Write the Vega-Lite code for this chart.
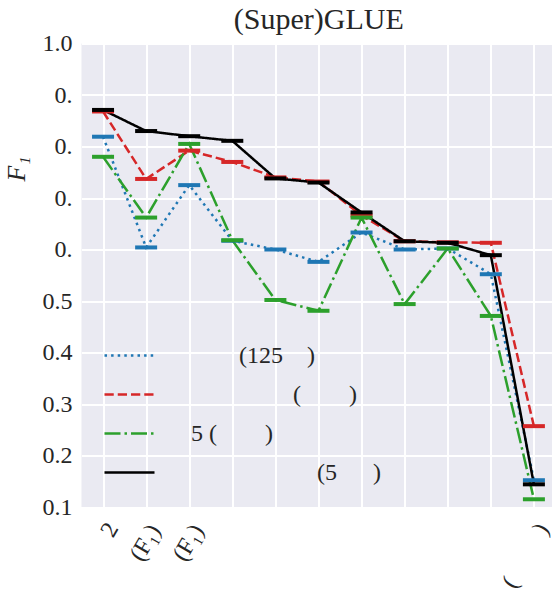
{
  "$schema": "https://vega.github.io/schema/vega-lite/v6.json",
  "width": 470.5,
  "height": 463.5,
  "autosize": {"type": "none"},
  "padding": {"left": 81.5, "top": 43.5, "right": 0, "bottom": 85},
  "background": "white",
  "title": {"text": "(Super)GLUE", "font": "Liberation Serif", "fontSize": 30, "fontWeight": "normal", "color": "#262626", "anchor": "middle", "offset": -3, "dx": 2},
  "config": {
    "view": {"fill": "#EAEAF2", "stroke": null},
    "axis": {"grid": true, "gridColor": "#ffffff", "gridWidth": 2, "gridOpacity": 1, "domain": false, "ticks": false, "labelFont": "Liberation Serif", "labelFontSize": 24, "labelColor": "#262626", "labelFlush": false, "labelOverlap": false, "titleFont": "Liberation Serif", "titleColor": "#262626"}
  },
  "data": {"values": [
    {"s": "s1", "x": 0, "y": 0.819}, {"s": "s1", "x": 1, "y": 0.604}, {"s": "s1", "x": 2, "y": 0.725}, {"s": "s1", "x": 3, "y": 0.617}, {"s": "s1", "x": 4, "y": 0.600}, {"s": "s1", "x": 5, "y": 0.576}, {"s": "s1", "x": 6, "y": 0.633}, {"s": "s1", "x": 7, "y": 0.600}, {"s": "s1", "x": 8, "y": 0.602}, {"s": "s1", "x": 9, "y": 0.552}, {"s": "s1", "x": 10, "y": 0.152},
    {"s": "s2", "x": 0, "y": 0.868}, {"s": "s2", "x": 1, "y": 0.737}, {"s": "s2", "x": 2, "y": 0.792}, {"s": "s2", "x": 3, "y": 0.770}, {"s": "s2", "x": 4, "y": 0.740}, {"s": "s2", "x": 5, "y": 0.732}, {"s": "s2", "x": 6, "y": 0.666}, {"s": "s2", "x": 7, "y": 0.616}, {"s": "s2", "x": 8, "y": 0.614}, {"s": "s2", "x": 9, "y": 0.613}, {"s": "s2", "x": 10, "y": 0.257},
    {"s": "s3", "x": 0, "y": 0.780}, {"s": "s3", "x": 1, "y": 0.662}, {"s": "s3", "x": 2, "y": 0.805}, {"s": "s3", "x": 3, "y": 0.618}, {"s": "s3", "x": 4, "y": 0.502}, {"s": "s3", "x": 5, "y": 0.481}, {"s": "s3", "x": 6, "y": 0.662}, {"s": "s3", "x": 7, "y": 0.494}, {"s": "s3", "x": 8, "y": 0.602}, {"s": "s3", "x": 9, "y": 0.471}, {"s": "s3", "x": 10, "y": 0.115},
    {"s": "s4", "x": 0, "y": 0.871}, {"s": "s4", "x": 1, "y": 0.830}, {"s": "s4", "x": 2, "y": 0.820}, {"s": "s4", "x": 3, "y": 0.811}, {"s": "s4", "x": 4, "y": 0.738}, {"s": "s4", "x": 5, "y": 0.730}, {"s": "s4", "x": 6, "y": 0.672}, {"s": "s4", "x": 7, "y": 0.616}, {"s": "s4", "x": 8, "y": 0.613}, {"s": "s4", "x": 9, "y": 0.589}, {"s": "s4", "x": 10, "y": 0.144}
  ]},
  "encoding": {
    "x": {"field": "x", "type": "quantitative", "scale": {"domain": [-0.5, 10.42], "nice": false, "zero": false},
      "axis": {"values": [0, 1, 2, 3, 4, 5, 6, 7, 8, 9, 10], "title": null, "labelAngle": -60, "labelAlign": "center", "labelBaseline": "middle", "labelPadding": 35.5, "labelOffset": -1,
        "labelExpr": "datum.value == 0 ? '\u2060\u2003\u20052' : (datum.value == 1 || datum.value == 2) ? '(F\u2081)' : datum.value == 10 ? '(\u2003\u2003\u2005)\u2003\u2005\u2060' : ''"}},
    "y": {"field": "y", "type": "quantitative", "scale": {"domain": [0.1, 1.0], "nice": false, "zero": false},
      "axis": {"values": [0.1, 0.2, 0.3, 0.4, 0.5, 0.6, 0.7, 0.8, 0.9, 1.0], "format": ".1f", "labelPadding": 9.5,
        "labelExpr": "(datum.value > 0.55 && datum.value < 0.95) ? '0.' : datum.label",
        "title": "F\u2081", "titleFontStyle": "italic", "titleFontWeight": "normal", "titleFontSize": 26, "titleAngle": 270, "titleX": -65, "titleY": 125, "titleAlign": "center", "titleBaseline": "middle"}}
  },
  "layer": [
    {"mark": {"type": "line", "strokeWidth": 2.5},
     "encoding": {
       "color": {"field": "s", "type": "nominal", "scale": {"domain": ["s1", "s2", "s3", "s4"], "range": ["#1f77b4", "#d62728", "#2ca02c", "#000000"]},
         "legend": {"title": null, "orient": "none", "legendX": 21.5, "legendY": 285.5, "padding": 0, "symbolType": "stroke", "symbolSize": 2500, "symbolStrokeWidth": 2.5, "labelFont": "Liberation Serif", "labelFontSize": 24, "labelColor": "#262626", "labelOffset": 11, "rowPadding": -12.3, "labelLimit": 400,
           "labelExpr": "datum.label == 's1' ? '\u2060\u2003\u2003\u2003(125\u2003)' : datum.label == 's2' ? '\u2060\u2003\u2003\u2003\u2003\u2003\u2005(\u2003\u2003)' : datum.label == 's3' ? '\u2060\u20035 (\u2003\u2003)' : '\u2060\u2003\u2003\u2003\u2003\u2003\u2003\u2005(5\u2003\u2002)'"}},
       "strokeDash": {"field": "s", "type": "nominal", "scale": {"domain": ["s1", "s2", "s3", "s4"], "range": [[2.5, 4.1], [9.25, 4], [16, 4, 2.5, 4], [1, 0]]},
         "legend": {"title": null, "orient": "none", "legendX": 21.5, "legendY": 285.5, "padding": 0, "symbolType": "stroke", "symbolSize": 2500, "symbolStrokeWidth": 2.5, "labelFont": "Liberation Serif", "labelFontSize": 24, "labelColor": "#262626", "labelOffset": 11, "rowPadding": -12.3, "labelLimit": 400,
           "labelExpr": "datum.label == 's1' ? '\u2060\u2003\u2003\u2003(125\u2003)' : datum.label == 's2' ? '\u2060\u2003\u2003\u2003\u2003\u2003\u2005(\u2003\u2003)' : datum.label == 's3' ? '\u2060\u20035 (\u2003\u2003)' : '\u2060\u2003\u2003\u2003\u2003\u2003\u2003\u2005(5\u2003\u2002)'"}}
     }},
    {"mark": {"type": "point", "shape": "stroke", "size": 484, "strokeWidth": 4, "filled": false, "opacity": 1},
     "encoding": {
       "color": {"field": "s", "type": "nominal", "legend": null}
     }}
  ]
}
